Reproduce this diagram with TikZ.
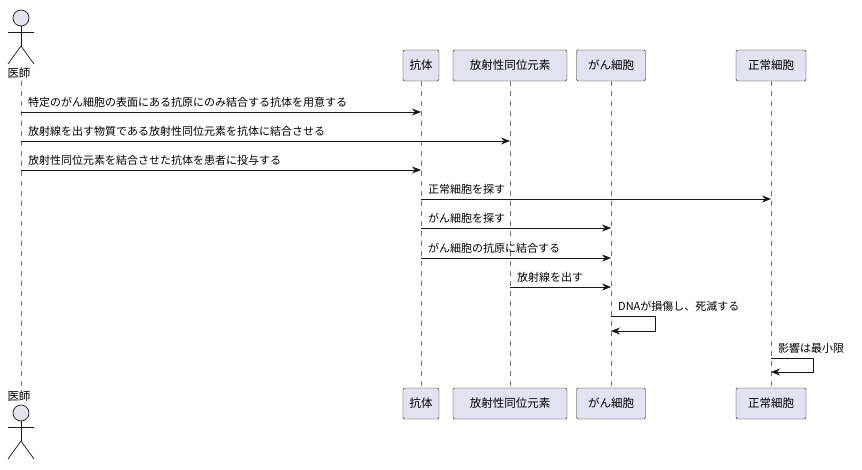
\documentclass[tikz,border=0pt]{standalone}
\usepackage{fontspec}
\setmainfont{Noto Sans CJK JP}
\usetikzlibrary{arrows.meta}
\definecolor{pfill}{HTML}{E2E2F0}
\definecolor{pline}{HTML}{181818}
\begin{document}
\begin{tikzpicture}[x=1pt,y=-1pt,
  part/.style={draw=pline,fill=pfill,rounded corners=2pt,inner sep=0pt,minimum height=31pt,font=\fontsize{11.5}{13}\selectfont,anchor=center},
  life/.style={draw=pline!60,dash pattern=on 5pt off 5pt,line width=0.5pt},
  msg/.style={draw=pline,line width=0.7pt,-{Stealth[length=9pt,width=7pt]}},
  lbl/.style={font=\fontsize{11}{13}\selectfont,anchor=south west,inner sep=1pt},
  act/.style={draw=pline,line width=0.7pt}]
\useasboundingbox (0,0) rectangle (862,469);
% lifelines
\foreach \x in {21,421,510,611,771}{\draw[life] (\x,81) -- (\x,388);}
% participants
\foreach \n/\x/\w/\t in {a/421/36/抗体,b/510/114/放射性同位元素,c/611/69/がん細胞,d/771/70/正常細胞}{
  \node[part,minimum width=\w pt] (\n top) at (\x,65.5) {\t};
  \node[part,minimum width=\w pt] (\n bot) at (\x,403.5) {\t};
}
% actors
\foreach \y/\ln in {18/73,413/396}{
  \draw[act,fill=pfill] (21,\y) circle (8);
  \draw[act] (21,\y+8) -- (21,\y+28);
  \draw[act] (8,\y+14) -- (34,\y+14);
  \draw[act] (21,\y+28) -- (8,\y+46);
  \draw[act] (21,\y+28) -- (34,\y+46);
  \node[font=\fontsize{11.5}{13}\selectfont] at (19,\ln) {医師};
}
\coordinate (doc) at (21,0);
% messages
\foreach \s/\e/\y/\t in {21/421/112/特定のがん細胞の表面にある抗原にのみ結合する抗体を用意する,
  21/510/141/放射線を出す物質である放射性同位元素を抗体に結合させる,
  21/421/170/放射性同位元素を結合させた抗体を患者に投与する,
  421/771/199/正常細胞を探す,
  421/611/228/がん細胞を探す,
  421/611/258/がん細胞の抗原に結合する,
  510/611/287/放射線を出す}{
  \draw[msg] (\s,\y) -- (\e,\y);
  \node[lbl] at (\s+6,\y-3) {\t};
}
\draw[msg] (611,316) -- (655,316) -- (655,331) -- (611,331);
\node[lbl] at (617,313) {DNAが損傷し、死滅する};
\draw[msg] (771,358) -- (813,358) -- (813,372) -- (771,372);
\node[lbl] at (777,355) {影響は最小限};
\end{tikzpicture}
\end{document}
